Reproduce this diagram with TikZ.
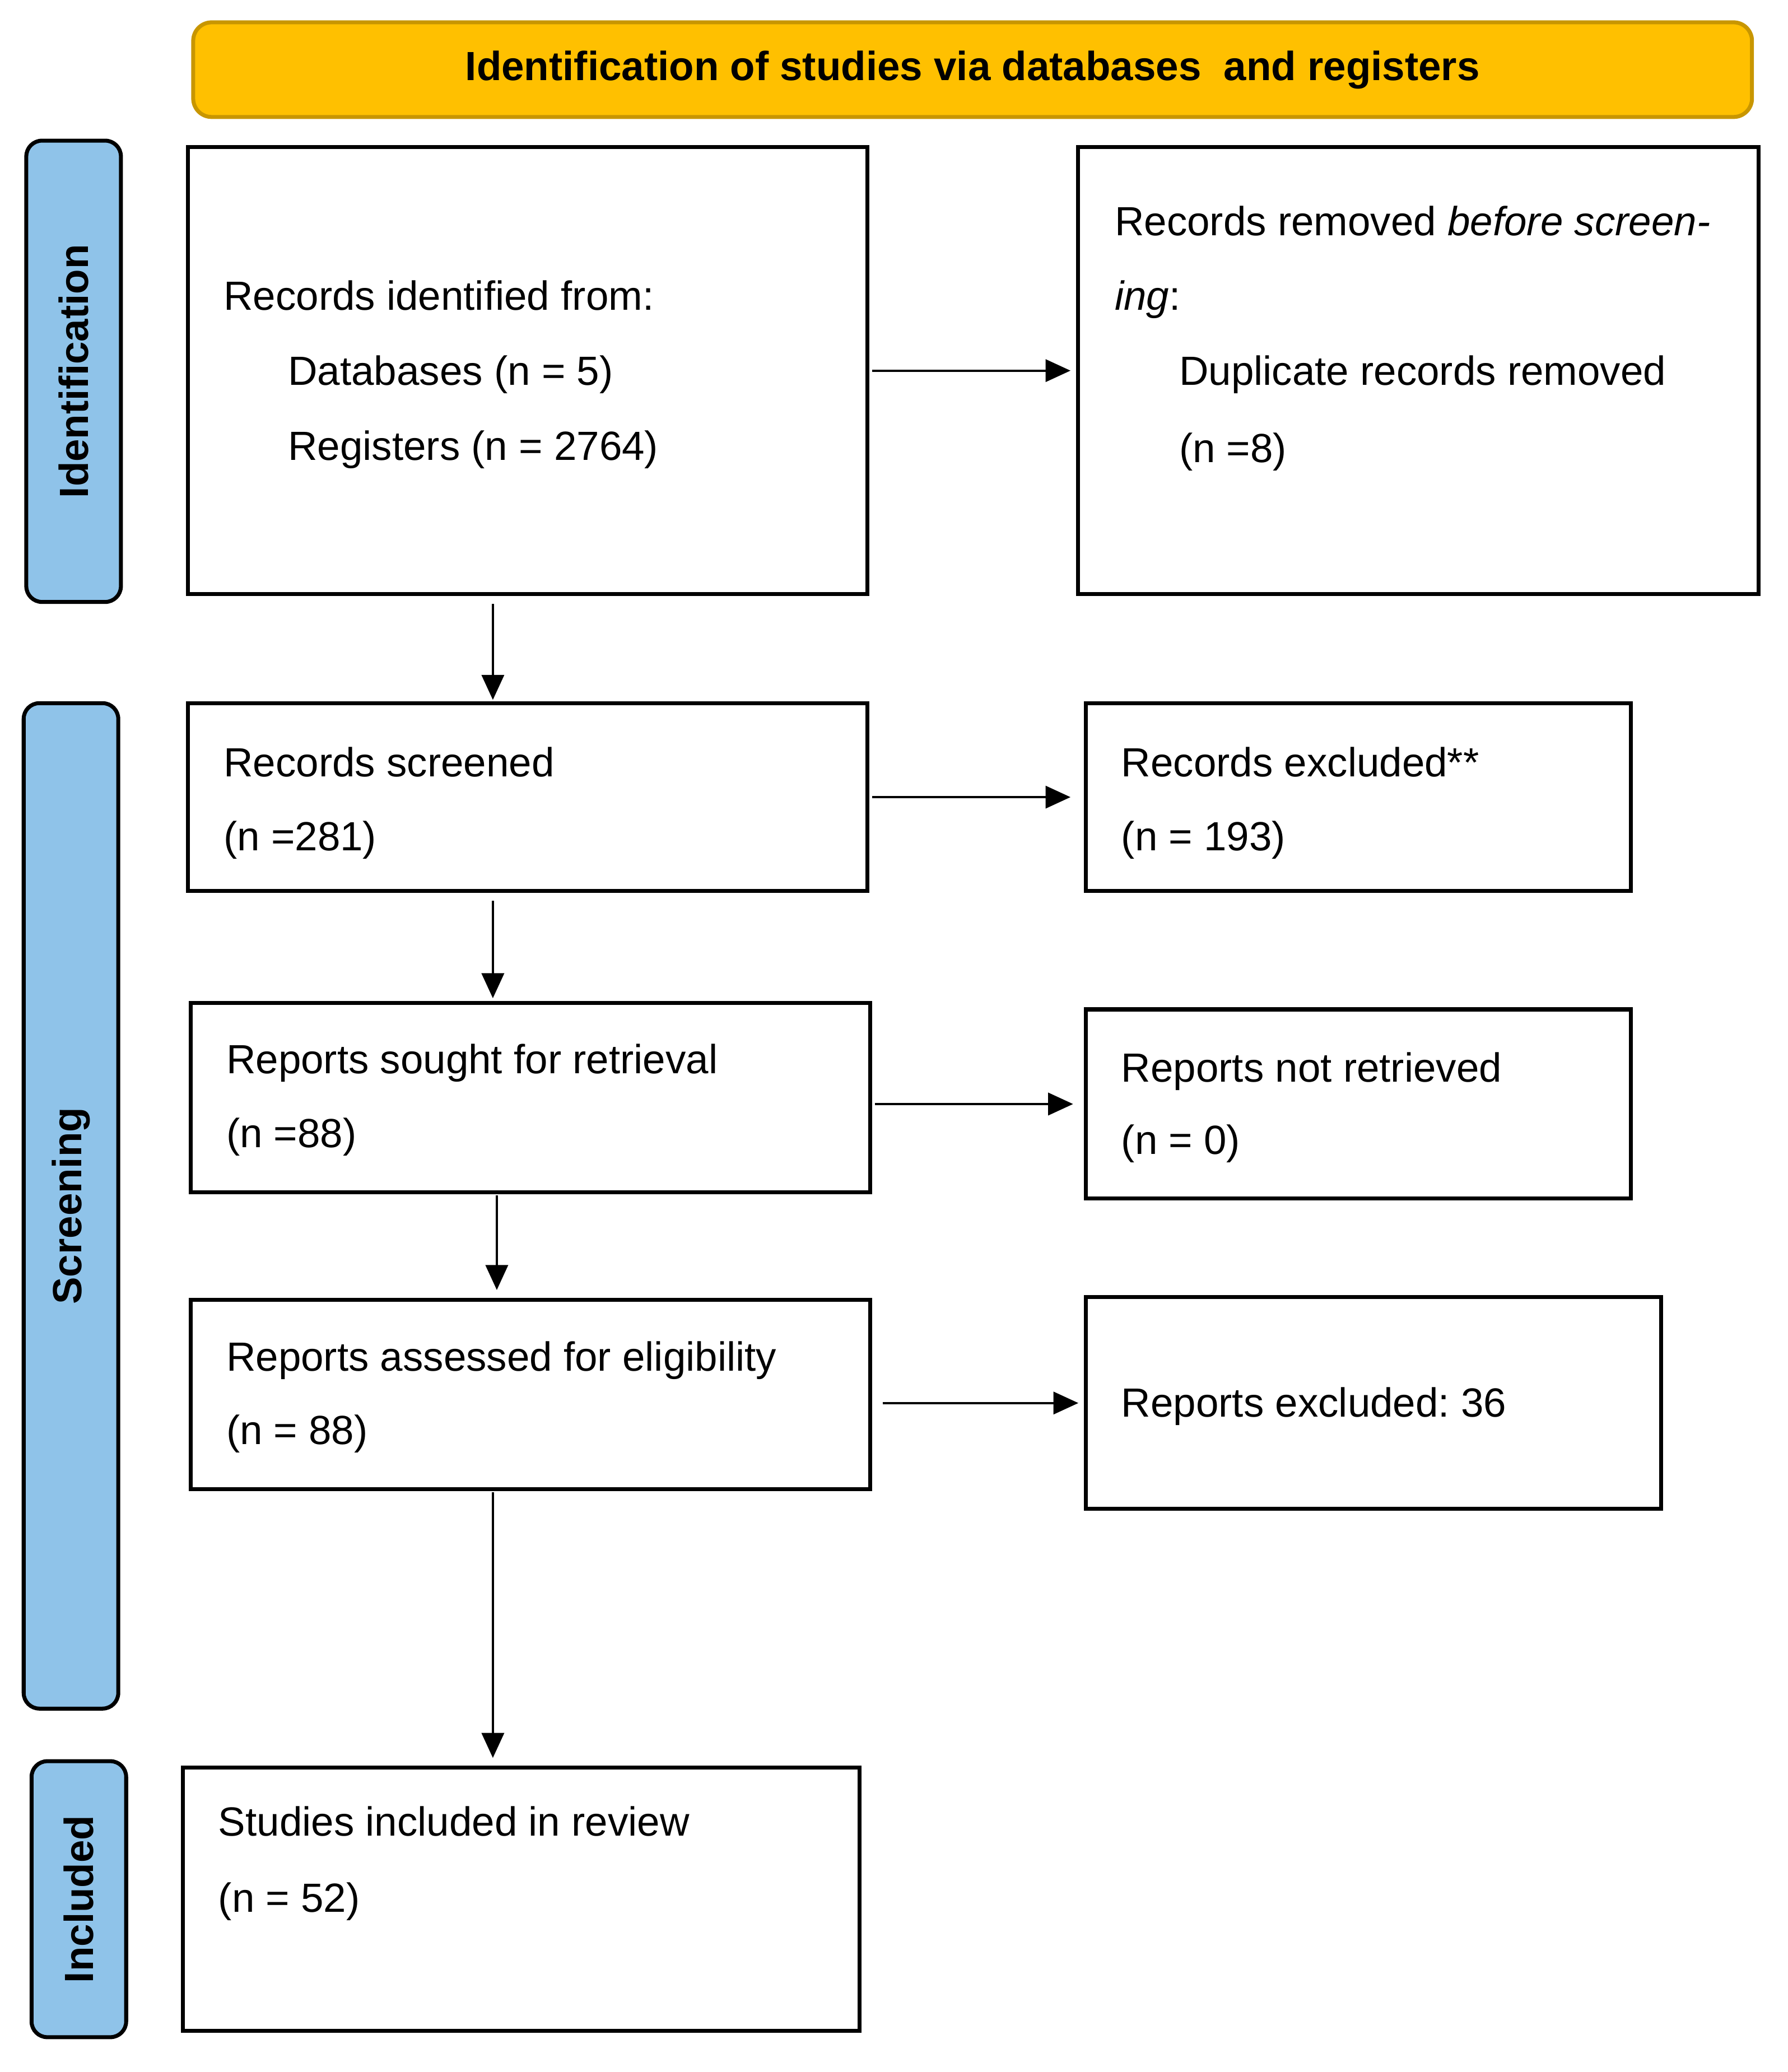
\documentclass[tikz,border=0pt]{standalone}
\usepackage{fontspec}
\setmainfont{Liberation Sans}
\usetikzlibrary{arrows.meta}
\definecolor{hdrfill}{RGB}{255,192,0}
\definecolor{hdrline}{RGB}{200,150,0}
\definecolor{barfill}{RGB}{143,195,233}
\frenchspacing
\begin{document}
\begin{tikzpicture}[x=1pt,y=-1pt,
  box/.style={draw=black,line width=3pt,fill=white,inner sep=0pt,rectangle},
  bar/.style={draw=black,line width=3pt,fill=barfill,rounded corners=12pt,inner sep=0pt,rectangle},
  hdr/.style={draw=hdrline,line width=3pt,fill=hdrfill,rounded corners=14pt,inner sep=0pt,rectangle,
    font=\fontsize{31}{37}\selectfont\bfseries},
  barlabel/.style={rotate=90,inner sep=0pt,font=\fontsize{31}{37}\selectfont\bfseries},
  txt/.style={anchor=west,inner sep=0pt,font=\fontsize{31}{37}\selectfont,text height=29pt,text depth=7pt},
  arr/.style={line width=1.8pt,-{Triangle[length=19pt,width=17pt]}}
]
\useasboundingbox (0,0) rectangle (1360,1576.5);

% header
\node[hdr,minimum width=1186pt,minimum height=72pt] (hdr) at (740,53) {Identification of studies via databases\ \ and registers};

% side bars
\node[bar,minimum width=72pt,minimum height=351pt] (s1) at (56,282.5) {};
\node[barlabel] (l1) at (s1.center) {Identification};
\node[bar,minimum width=72pt,minimum height=765pt] (s2) at (54,917.5) {};
\node[barlabel] (l2) at (s2.center) {Screening};
\node[bar,minimum width=72pt,minimum height=210pt] (s3) at (60,1445) {};
\node[barlabel] (l3) at (s3.center) {Included};

% boxes
\node[box,minimum width=517pt,minimum height=340pt] (b1) at (401.5,282) {};
\node[box,minimum width=518pt,minimum height=340pt] (b2) at (1079,282) {};
\node[box,minimum width=517pt,minimum height=143pt] (b3) at (401.5,606.5) {};
\node[box,minimum width=415pt,minimum height=143pt] (b4) at (1033.5,606.5) {};
\node[box,minimum width=517pt,minimum height=144pt] (b5) at (403.5,835) {};
\node[box,minimum width=415pt,minimum height=144pt] (b6) at (1033.5,840) {};
\node[box,minimum width=517pt,minimum height=144pt] (b7) at (403.5,1061) {};
\node[box,minimum width=438pt,minimum height=161pt] (b8) at (1045,1067.5) {};
\node[box,minimum width=515pt,minimum height=200pt] (b9) at (396.5,1445) {};

% texts
\node[txt] (t1a) at (170,225) {Records identified from:};
\node[txt] (t1b) at (219,282) {Databases (n = 5)};
\node[txt] (t1c) at (219,339) {Registers (n = 2764)};

\node[txt] (t2a) at (848,168) {Records removed \textit{before screen-}};
\node[txt] (t2b) at (848,225) {\textit{ing}:};
\node[txt] (t2c) at (897,282) {Duplicate records removed};
\node[txt] (t2d) at (897,341) {(n =8)};

\node[txt] (t3a) at (170,580) {Records screened};
\node[txt] (t3b) at (170,636) {(n =281)};

\node[txt] (t4a) at (853,580) {Records excluded**};
\node[txt] (t4b) at (853,636) {(n = 193)};

\node[txt] (t5a) at (172,806) {Reports sought for retrieval};
\node[txt] (t5b) at (172,862) {(n =88)};

\node[txt] (t6a) at (853,812) {Reports not retrieved};
\node[txt] (t6b) at (853,867) {(n = 0)};

\node[txt] (t7a) at (172,1032) {Reports assessed for eligibility};
\node[txt] (t7b) at (172,1088) {(n = 88)};

\node[txt] (t8a) at (853,1067) {Reports excluded: 36};

\node[txt] (t9a) at (166,1386) {Studies included in review};
\node[txt] (t9b) at (166,1444) {(n = 52)};

% horizontal arrows
\draw[arr,shorten <=2pt,shorten >=4pt] (b1.east) -- (b2.west);
\draw[arr,shorten <=2pt,shorten >=10pt] (b3.east |- b4.west) -- (b4.west);
\draw[arr,shorten <=2pt,shorten >=8pt] (b5.east |- b6.west) -- (b6.west);
\draw[arr,shorten <=8pt,shorten >=4pt] (b7.east |- b8.west) -- (b8.west);

% vertical arrows
\draw[arr,shorten <=6pt,shorten >=1pt] ([xshift=-26.5pt]b1.south) -- ([xshift=-26.5pt]b1.south |- b3.north);
\draw[arr,shorten <=6pt,shorten >=2pt] ([xshift=-26.5pt]b3.south) -- ([xshift=-26.5pt]b3.south |- b5.north);
\draw[arr,shorten <=1pt,shorten >=6pt] ([xshift=-25.5pt]b5.south) -- ([xshift=-25.5pt]b5.south |- b7.north);
\draw[arr,shorten <=1pt,shorten >=6pt] ([xshift=-28.5pt]b7.south) -- ([xshift=-28.5pt]b7.south |- b9.north);
\end{tikzpicture}
\end{document}
